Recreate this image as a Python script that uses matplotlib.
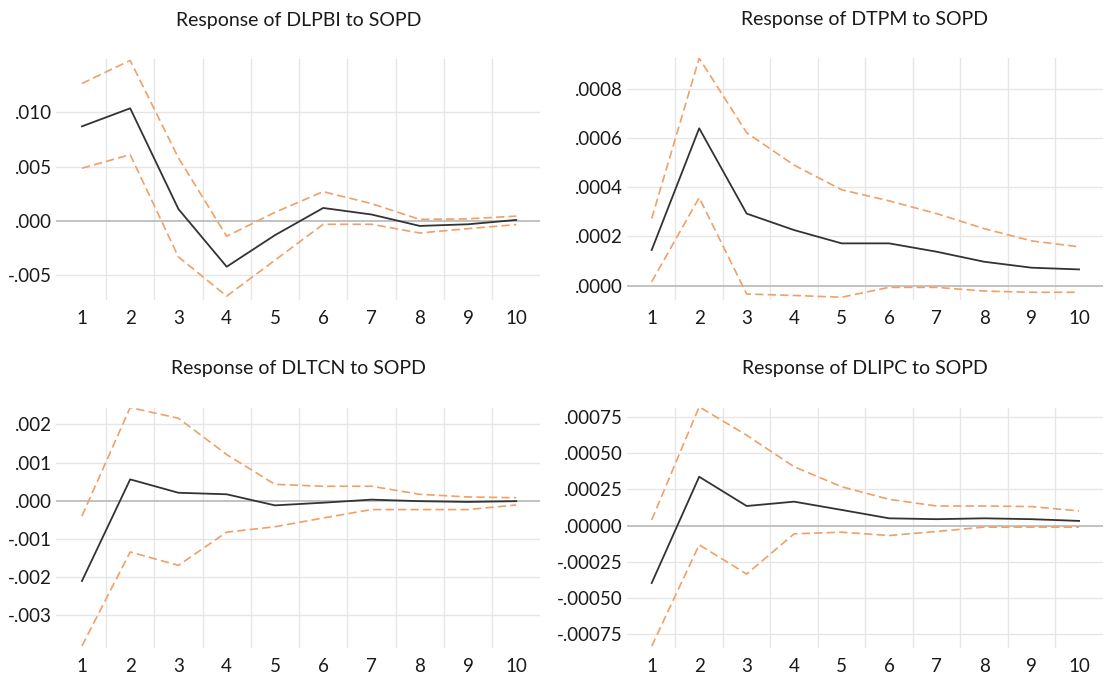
import matplotlib
matplotlib.use('Agg')
import matplotlib.pyplot as plt
from matplotlib.ticker import FuncFormatter

plt.rcParams['font.family'] = ['Lato', 'DejaVu Sans']

periods = [1, 2, 3, 4, 5, 6, 7, 8, 9, 10]

# Response of DLPBI to SOPD
dlpbi_resp = [0.0087, 0.01036, 0.0011, -0.0042, -0.0013, 0.0012, 0.0006, -0.00045, -0.0003, 0.0001]
dlpbi_upper = [0.01264, 0.01476, 0.0058, -0.0014, 0.0008, 0.0027, 0.0016, 0.00015, 0.0002, 0.00045]
dlpbi_lower = [0.00485, 0.0061, -0.0033, -0.0069, -0.0036, -0.0003, -0.0003, -0.0011, -0.0007, -0.00033]

# Response of DTPM to SOPD
dtpm_resp = [0.000145, 0.00064, 0.000293, 0.000226, 0.000172, 0.000172, 0.000138, 0.0000973, 0.000073, 0.000066]
dtpm_upper = [0.000273, 0.000925, 0.000622, 0.00049, 0.00039, 0.000345, 0.000293, 0.000232, 0.000182, 0.000158]
dtpm_lower = [0.000016, 0.000358, -0.000034, -0.00004, -0.000047, -0.000007, -0.000007, -0.000022, -0.000027, -0.000027]

# Response of DLTCN to SOPD
dltcn_resp = [-0.0021, 0.00056, 0.00021, 0.00017, -0.00012, -0.00005, 0.00003, -0.00001, -0.00003, -0.00001]
dltcn_upper = [-0.0004, 0.00244, 0.00216, 0.00121, 0.00043, 0.00038, 0.00038, 0.00017, 0.0001, 0.00008]
dltcn_lower = [-0.0038, -0.00134, -0.00169, -0.00082, -0.00068, -0.00045, -0.00023, -0.00023, -0.00023, -0.00011]

# Response of DLIPC to SOPD
dlipc_resp = [-0.000397, 0.000337, 0.000135, 0.000165, 0.000108, 0.00005, 0.000044, 0.00005, 0.000044, 0.000032]
dlipc_upper = [0.000039, 0.00082, 0.000624, 0.000406, 0.000268, 0.000181, 0.000135, 0.000135, 0.000131, 0.000101]
dlipc_lower = [-0.000833, -0.000133, -0.000335, -0.000057, -0.000046, -0.000069, -0.000041, -0.000011, -0.000011, -0.000011]

panels = [
    ("Response of DLPBI to SOPD", dlpbi_resp, dlpbi_upper, dlpbi_lower,
     [-0.005, 0.0, 0.005, 0.010], 3, (-0.00725, 0.0149)),
    ("Response of DTPM to SOPD", dtpm_resp, dtpm_upper, dtpm_lower,
     [0.0, 0.0002, 0.0004, 0.0006, 0.0008], 4, (-0.000058, 0.000925)),
    ("Response of DLTCN to SOPD", dltcn_resp, dltcn_upper, dltcn_lower,
     [-0.003, -0.002, -0.001, 0.0, 0.001, 0.002], 3, (-0.00385, 0.00244)),
    ("Response of DLIPC to SOPD", dlipc_resp, dlipc_upper, dlipc_lower,
     [-0.00075, -0.0005, -0.00025, 0.0, 0.00025, 0.0005, 0.00075], 5, (-0.000845, 0.000815)),
]

# axes boxes in figure fractions (left, bottom, width, height)
boxes = [
    (0.051, 0.557, 0.438, 0.356),
    (0.567, 0.557, 0.431, 0.357),
    (0.051, 0.043, 0.438, 0.355),
    (0.567, 0.043, 0.431, 0.355),
]

orange = '#F0A066'

def make_fmt(dec):
    def f(v, pos):
        s = f"{v:.{dec}f}"
        if s.startswith('-') and float(s) == 0:
            s = s[1:]
        return s.replace('0.', '.', 1)
    return FuncFormatter(f)

fig = plt.figure(figsize=(11.05, 6.77), dpi=100)
for (title, resp, up, lo, yt, dec, ylim), box in zip(panels, boxes):
    ax = fig.add_axes(box)
    for s in ax.spines.values():
        s.set_visible(False)
    # grid: vertical lines between periods, horizontal at ticks
    for xv in [p + 0.5 for p in periods[:-1]]:
        ax.axvline(xv, color='#E6E6E6', lw=1.0, zorder=0)
    for yv in yt:
        if yv != 0:
            ax.axhline(yv, color='#E6E6E6', lw=1.0, zorder=0)
    ax.axhline(0, color='#BDBDBD', lw=1.3, zorder=1)
    ax.plot(periods, up, color=orange, lw=1.2, linestyle=(0, (5, 2.5)), zorder=2)
    ax.plot(periods, lo, color=orange, lw=1.2, linestyle=(0, (5, 2.5)), zorder=2)
    ax.plot(periods, resp, color='#333333', lw=1.3, zorder=3)
    ax.set_xlim(0.47, 10.5)
    ax.set_ylim(*ylim)
    ax.set_xticks(periods)
    ax.set_yticks(yt)
    ax.yaxis.set_major_formatter(make_fmt(dec))
    ax.tick_params(length=0, labelsize=13.5, colors='#1A1A1A')
    ax.tick_params(axis='x', pad=7)
    ax.tick_params(axis='y', pad=3)
    ax.set_title(title, fontsize=14, color='#1A1A1A', pad=24)

plt.savefig('out.png', dpi=100)
